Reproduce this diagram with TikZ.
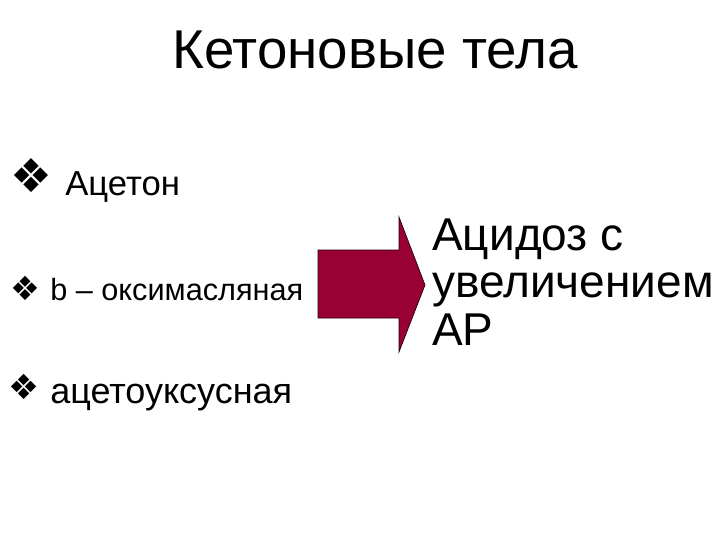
\documentclass[tikz,border=0pt]{standalone}
\usepackage{fontspec}
\setmainfont{Liberation Sans}
\newfontfamily\bulletfont{DejaVu Sans}
\usepackage{xcolor}
\definecolor{arrowred}{RGB}{153,0,51}

\begin{document}
\begin{tikzpicture}[x=0.75pt,y=0.75pt,yscale=-1,xscale=1,
  txt/.style={anchor=base west,inner sep=0pt},
  bull/.style={anchor=base west,inner sep=0pt}]
\useasboundingbox (0,0) rectangle (720,540);

% Title
\node [txt,anchor=base,font=\fontsize{41}{48}\selectfont] (title) at (375,68) {Кетоновые тела};

% Bullets
\node [bull,font=\bulletfont\fontsize{35}{40}\selectfont] (b1) at (10,192) {❖};
\node [txt,font=\fontsize{26}{30}\selectfont] (acetone) at (65,195) {Ацетон};
\node [bull,font=\bulletfont\fontsize{25}{28}\selectfont] (b2) at (10,300) {❖};
\node [txt,font=\fontsize{23}{27}\selectfont] (oxy) at (50,300) {b – оксимасляная};
\node [bull,font=\bulletfont\fontsize{26}{30}\selectfont] (b3) at (8,399) {❖};
\node [txt,font=\fontsize{27}{31}\selectfont] (aceto) at (50,403) {ацетоуксусная};

%Shape: Right Arrow
\draw [color=black!80!arrowred,line width=0.5pt,fill=arrowred] (318,250) -- (399,250) -- (399,217) -- (425,285) -- (399,352) -- (399,318) -- (318,318) -- cycle ;

% Text Node (base = last line)
\node [txt,align=left,font=\fontsize{34.5}{35.6}\selectfont] (result) at (432,345) {Ацидоз с\\увеличением\\АР};

\end{tikzpicture}
\end{document}
